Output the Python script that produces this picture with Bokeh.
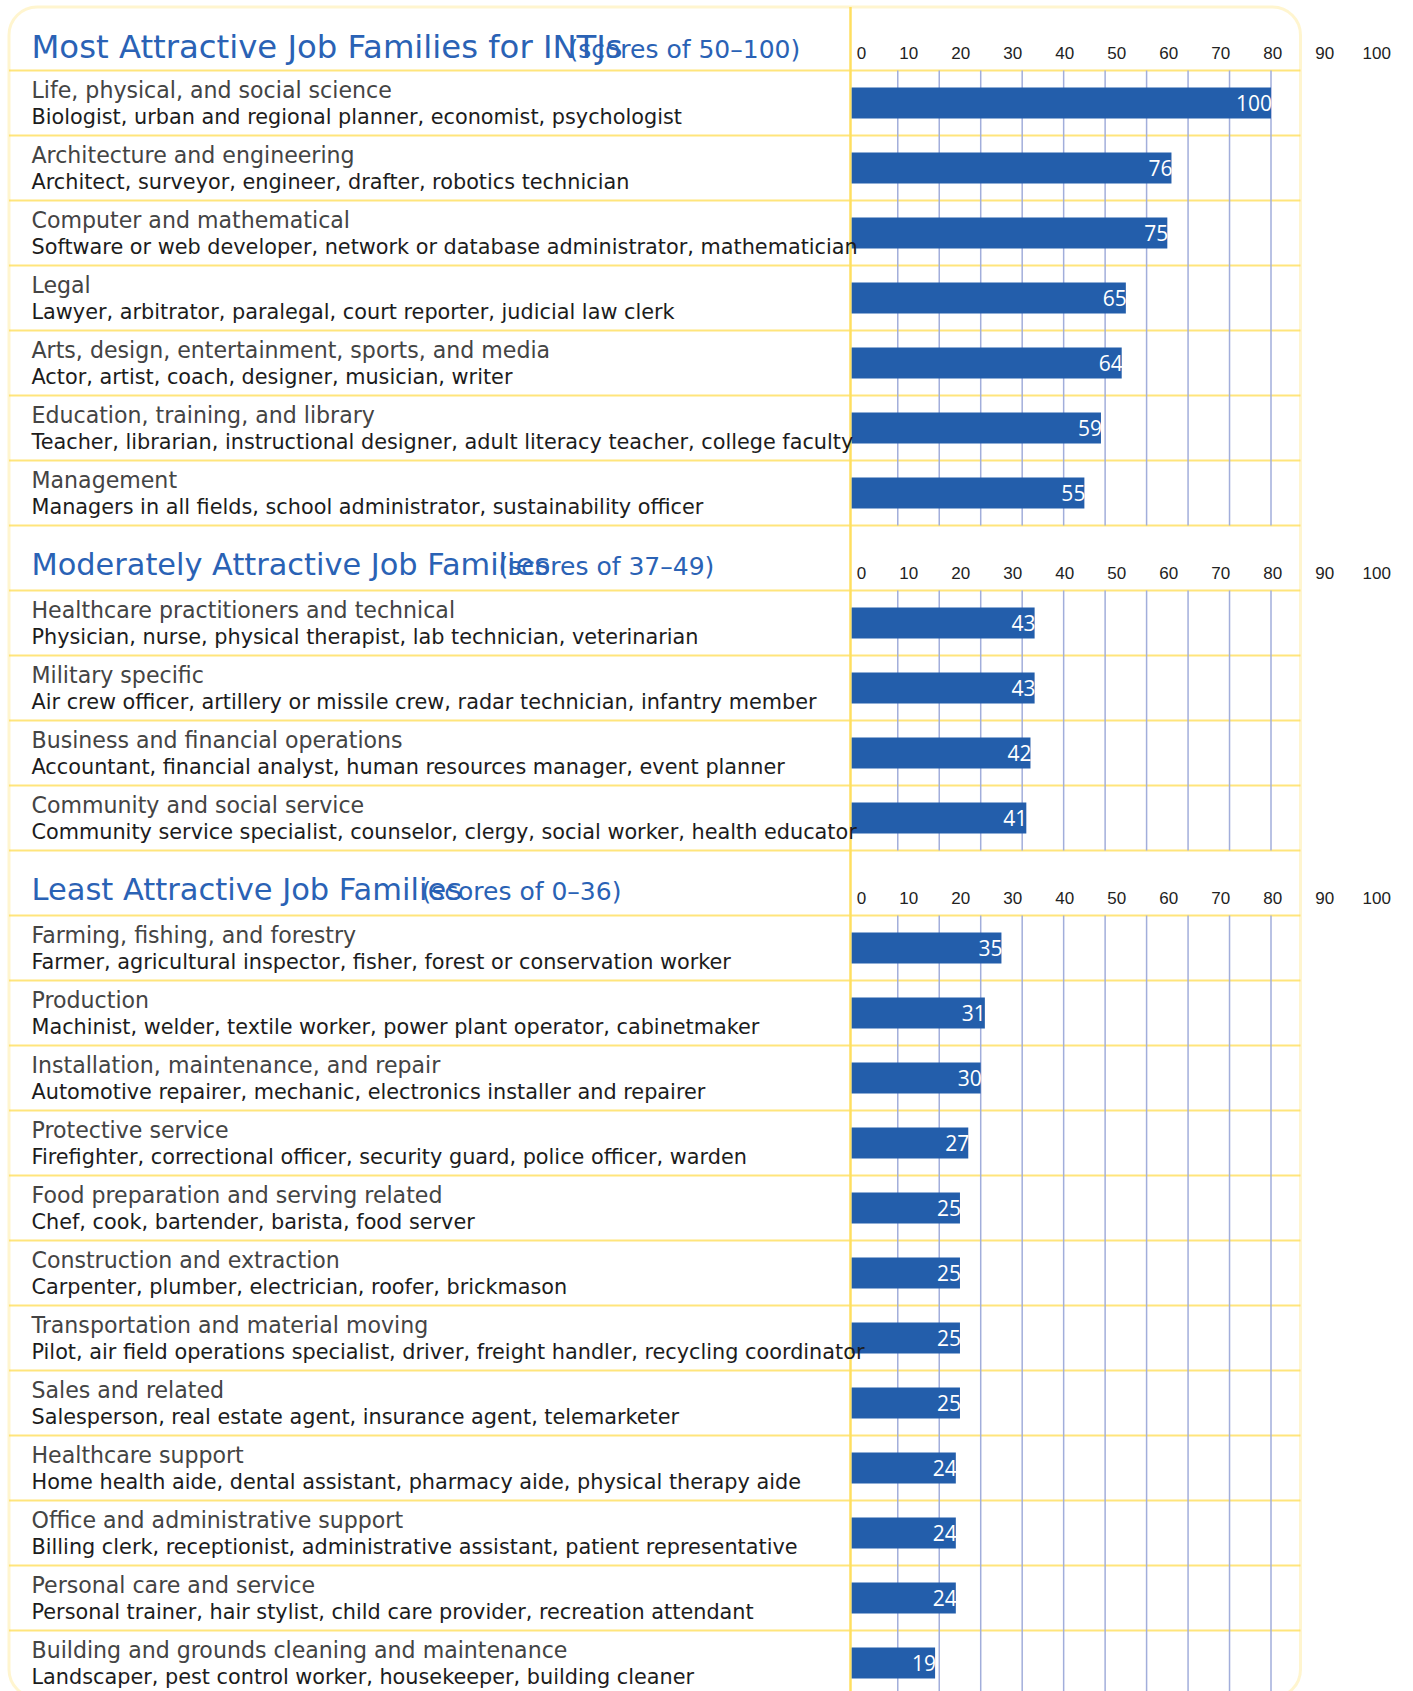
from bokeh.plotting import figure
from bokeh.models import Range1d, BoxAnnotation, ColumnDataSource
from bokeh.core.properties import value
from bokeh.embed import file_html
from bokeh.resources import INLINE

# ---------------- data ----------------
section_titles = ["Most Attractive Job Families for INTJs",
                  "Moderately Attractive Job Families",
                  "Least Attractive Job Families"]
section_subtitles = ["(scores of 50\u2013100)", "(scores of 37\u201349)", "(scores of 0\u201336)"]

most_families = ["Life, physical, and social science",
                 "Architecture and engineering",
                 "Computer and mathematical",
                 "Legal",
                 "Arts, design, entertainment, sports, and media",
                 "Education, training, and library",
                 "Management"]
most_examples = ["Biologist, urban and regional planner, economist, psychologist",
                 "Architect, surveyor, engineer, drafter, robotics technician",
                 "Software or web developer, network or database administrator, mathematician",
                 "Lawyer, arbitrator, paralegal, court reporter, judicial law clerk",
                 "Actor, artist, coach, designer, musician, writer",
                 "Teacher, librarian, instructional designer, adult literacy teacher, college faculty",
                 "Managers in all fields, school administrator, sustainability officer"]
most_scores = [100, 76, 75, 65, 64, 59, 55]

moderate_families = ["Healthcare practitioners and technical",
                     "Military specific",
                     "Business and financial operations",
                     "Community and social service"]
moderate_examples = ["Physician, nurse, physical therapist, lab technician, veterinarian",
                     "Air crew officer, artillery or missile crew, radar technician, infantry member",
                     "Accountant, financial analyst, human resources manager, event planner",
                     "Community service specialist, counselor, clergy, social worker, health educator"]
moderate_scores = [43, 43, 42, 41]

least_families = ["Farming, fishing, and forestry",
                  "Production",
                  "Installation, maintenance, and repair",
                  "Protective service",
                  "Food preparation and serving related",
                  "Construction and extraction",
                  "Transportation and material moving",
                  "Sales and related",
                  "Healthcare support",
                  "Office and administrative support",
                  "Personal care and service",
                  "Building and grounds cleaning and maintenance"]
least_examples = ["Farmer, agricultural inspector, fisher, forest or conservation worker",
                  "Machinist, welder, textile worker, power plant operator, cabinetmaker",
                  "Automotive repairer, mechanic, electronics installer and repairer",
                  "Firefighter, correctional officer, security guard, police officer, warden",
                  "Chef, cook, bartender, barista, food server",
                  "Carpenter, plumber, electrician, roofer, brickmason",
                  "Pilot, air field operations specialist, driver, freight handler, recycling coordinator",
                  "Salesperson, real estate agent, insurance agent, telemarketer",
                  "Home health aide, dental assistant, pharmacy aide, physical therapy aide",
                  "Billing clerk, receptionist, administrative assistant, patient representative",
                  "Personal trainer, hair stylist, child care provider, recreation attendant",
                  "Landscaper, pest control worker, housekeeper, building cleaner"]
least_scores = [35, 31, 30, 27, 25, 25, 25, 25, 24, 24, 24, 19]

tick_values = [0, 10, 20, 30, 40, 50, 60, 70, 80, 90, 100]
tick_labels = ["0", "10", "20", "30", "40", "50", "60", "70", "80", "90", "100"]
grid_values = [10, 20, 30, 40, 50, 60, 70, 80, 90, 100]

# ---------------- layout / style ----------------
W, H = 1413, 1691
PAGE_LEFT, PAGE_TOP = 0, 0
ROW_H = 65.0
ROW_ORIGIN = 5.0
ZERO_PX = 855.8
UNIT_PX = 4.147
TICK_ZERO_PX = 856.3
TICK_UNIT_PX = 5.2
DIVIDER_PX = 850
BAR_LEFT_PX = 851.2
TEXT_PX = 31
SUB_X = [568, 498, 421]
TITLE_BASE = [0.805, 0.77, 0.77]   # baseline within header row (row units)
TICK_BASE = 0.83
LINE1_BASE = 0.425
LINE2_BASE = 0.83
BORDER_L, BORDER_R, BORDER_T, BORDER_B = 8.5, 1300, 6.5, 1697

TITLE_FS = [32.3, 30.4, 30.5]
SUB_FS, L1_FS, L2_FS, TICK_FS, VAL_FS = 25, 22.1, 20.8, 17, 21
MID = 0.35     # distance (em) from the 'middle' anchor to the baseline

BAR = "#235EAB"
GRID = "#A2AEDB"
YELLOW = "#FFDF60"
ROWLINE = "#FFE57C"
BLUE = "#2A62B5"
FONT = "DejaVu Sans"


def row_of(py):
    return (py - ROW_ORIGIN) / ROW_H


def unit_of(px):
    return (px - ZERO_PX) / UNIT_PX


def tick_of(px):
    return (px - TICK_ZERO_PX) / TICK_UNIT_PX


def mid_from_base(base_row, fs, k=MID):
    return base_row - k * fs / ROW_H


sections = [(most_families, most_examples, most_scores),
            (moderate_families, moderate_examples, moderate_scores),
            (least_families, least_examples, least_scores)]

hdr_r = []
item_r, fam, ex, sc = [], [], [], []
grid_spans = []
r = 0
for fams, exs, scs in sections:
    hdr_r.append(r)
    r += 1
    start = r
    for f, e, s in zip(fams, exs, scs):
        item_r.append(r)
        fam.append(f)
        ex.append(e)
        sc.append(s)
        r += 1
    grid_spans.append((start, r))
n_rows = r

p = figure(width=W, height=H,
           x_range=Range1d(unit_of(PAGE_LEFT), unit_of(PAGE_LEFT + W)),
           y_range=Range1d(row_of(PAGE_TOP + H), row_of(PAGE_TOP)),
           output_backend="svg", toolbar_location=None,
           x_axis_location=None, y_axis_location=None,
           min_border=0, outline_line_color=None,
           background_fill_color="white", border_fill_color="white")
p.xgrid.visible = False
p.ygrid.visible = False
p.extra_x_ranges = {"px": Range1d(PAGE_LEFT, PAGE_LEFT + W),
                    "tick": Range1d(tick_of(PAGE_LEFT), tick_of(PAGE_LEFT + W))}

# horizontal row separators
line_rows = list(range(1, n_rows + 1))
p.segment(x0=BORDER_L, x1=BORDER_R, y0=line_rows, y1=line_rows,
          x_range_name="px", line_color=ROWLINE, line_width=2)

# vertical grid lines within each section's data rows
gx, gy0, gy1 = [], [], []
for a, b in grid_spans:
    for g in grid_values:
        gx.append(g)
        gy0.append(a)
        gy1.append(b)
p.segment(x0=gx, x1=gx, y0=gy0, y1=gy1, line_color=GRID, line_width=1.5)

# divider
p.segment(x0=[DIVIDER_PX], x1=[DIVIDER_PX], y0=[row_of(BORDER_T)], y1=[row_of(BORDER_B)],
          x_range_name="px", line_color=YELLOW, line_width=2.5)

# bars
src = ColumnDataSource(dict(y=[ri + 0.5 for ri in item_r], score=sc,
                            label=[str(s) for s in sc],
                            y1=[mid_from_base(ri + LINE1_BASE, L1_FS) for ri in item_r],
                            y2=[mid_from_base(ri + LINE2_BASE, L2_FS) for ri in item_r],
                            fam=fam, ex=ex))
p.hbar(y="y", left=unit_of(BAR_LEFT_PX), right="score", height=31 / ROW_H,
       source=src, fill_color=BAR, line_color=None)

# value labels
p.text(x="score", y="y", text="label", source=src, text_align="right",
       text_baseline="middle", x_offset=1, text_color="white",
       text_font=value("Open Sans"), text_font_size=f"{VAL_FS}px")

# row labels
p.text(x=TEXT_PX, y="y1", text="fam", source=src, x_range_name="px",
       text_align="left", text_baseline="middle", text_color="#444444",
       text_font=value(FONT), text_font_size=f"{L1_FS}px")
p.text(x=TEXT_PX, y="y2", text="ex", source=src, x_range_name="px",
       text_align="left", text_baseline="middle", text_color="#1c1c1c",
       text_font=value(FONT), text_font_size=f"{L2_FS}px")

# section headers
hsrc = ColumnDataSource(dict(
    x=[TEXT_PX] * 3,
    y=[mid_from_base(h + b, fs) for h, b, fs in zip(hdr_r, TITLE_BASE, TITLE_FS)],
    t=section_titles,
    fs=[f"{fs}px" for fs in TITLE_FS],
    sx=SUB_X,
    sy=[mid_from_base(h + b, SUB_FS) for h, b in zip(hdr_r, TITLE_BASE)],
    st=section_subtitles))
p.text(x="x", y="y", text="t", source=hsrc, x_range_name="px", text_align="left",
       text_baseline="middle", text_color=BLUE, text_font=value(FONT),
       text_font_size="fs")
p.text(x="sx", y="sy", text="st", source=hsrc, x_range_name="px", text_align="left",
       text_baseline="middle", text_color=BLUE, text_font=value(FONT),
       text_font_size=f"{SUB_FS}px")

# tick labels in each header
tx, ty, tt, ta = [], [], [], []
for h in hdr_r:
    for i, (v, lab) in enumerate(zip(tick_values, tick_labels)):
        tx.append(v)
        ty.append(mid_from_base(h + TICK_BASE, TICK_FS, 0.37))
        tt.append(lab)
        ta.append("left" if i == 0 else "center")
tsrc = ColumnDataSource(dict(x=tx, y=ty, t=tt, a=ta))
p.text(x="x", y="y", text="t", text_align="a", source=tsrc, x_range_name="tick",
       text_baseline="middle", text_color="#222222",
       text_font=value("Liberation Sans"), text_font_size=f"{TICK_FS}px")

# rounded outer border
p.add_layout(BoxAnnotation(left=BORDER_L, right=BORDER_R,
                           top=row_of(BORDER_T), bottom=row_of(BORDER_B),
                           x_range_name="px", fill_color=None, fill_alpha=0,
                           line_color=YELLOW, line_width=3, border_radius=28))

open("out.html", "w").write(file_html(p, INLINE))
